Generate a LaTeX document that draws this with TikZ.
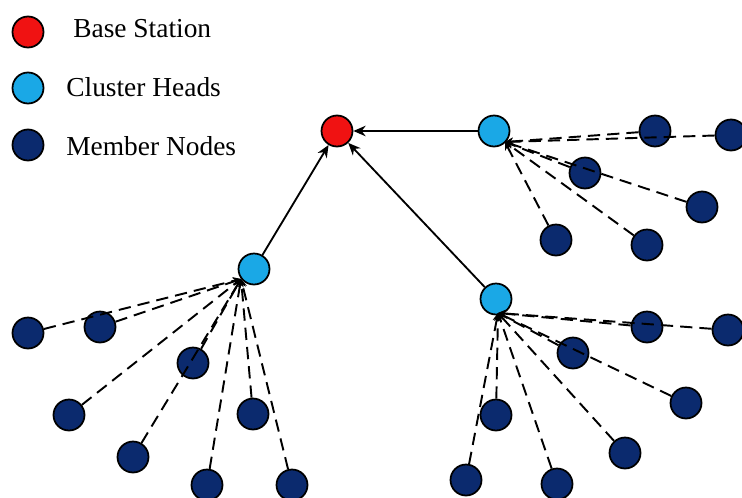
\documentclass[tikz,border=0pt]{standalone}
\usepackage{fontspec}
\setmainfont{Liberation Serif}
\usetikzlibrary{arrows.meta}
\definecolor{bsred}{RGB}{240,18,18}
\definecolor{chcyan}{RGB}{26,168,230}
\definecolor{mbnavy}{RGB}{11,42,110}
\tikzset{
  dot/.style={circle,draw=black,line width=1pt,minimum size=0.62cm,inner sep=0pt},
  bs/.style={dot,fill=bsred},
  ch/.style={dot,fill=chcyan},
  mb/.style={dot,fill=mbnavy},
  uplink/.style={line width=1.05pt,-{Stealth[length=7pt,width=6pt]}},
  member/.style={line width=1.1pt,dash pattern=on 7pt off 4pt,-{Stealth[length=4.5pt,width=4.5pt]}},
  legtext/.style={anchor=west,inner sep=0pt,font=\fontsize{15.6}{18}\selectfont}
}
\begin{document}
\begin{tikzpicture}[x=0.02cm,y=-0.02cm]
\useasboundingbox (0,0) rectangle (742,497);
% legend
\node[bs] (lbs) at (28,32) {};
\node[ch] (lch) at (28,88) {};
\node[mb] (lmb) at (28,145) {};
\node[legtext] (tbs) at (73,29) {Base Station};
\node[legtext] (tch) at (66,87) {Cluster Heads};
\node[legtext] (tmb) at (66,146) {Member Nodes};
% base station and cluster heads
\node[bs] (bs) at (337,131) {};
\node[ch] (ch1) at (494,131) {};
\node[ch] (ch2) at (254,269) {};
\node[ch] (ch3) at (496,299) {};
% members of cluster 1
\node[mb] (a1) at (655,131) {};
\node[mb] (a2) at (731,135) {};
\node[mb] (a3) at (585,173) {};
\node[mb] (a4) at (702,207) {};
\node[mb] (a5) at (556,240) {};
\node[mb] (a6) at (647,245) {};
% members of cluster 2
\node[mb] (b1) at (28,333) {};
\node[mb] (b2) at (100,327) {};
\node[mb] (b3) at (193,363) {};
\node[mb] (b4) at (69,415) {};
\node[mb] (b5) at (253,414) {};
\node[mb] (b6) at (133,457) {};
\node[mb] (b7) at (207,485) {};
\node[mb] (b8) at (292,485) {};
% members of cluster 3
\node[mb] (c1) at (647,327) {};
\node[mb] (c2) at (728,330) {};
\node[mb] (c3) at (573,353) {};
\node[mb] (c4) at (686,403) {};
\node[mb] (c5) at (496,415) {};
\node[mb] (c6) at (625,453) {};
\node[mb] (c7) at (466,480) {};
\node[mb] (c8) at (557,484) {};
% points where member links reach their head
\coordinate (h1) at (505,142);
\coordinate (h2) at (241,279);
\coordinate (h3) at (498,313);
% uplinks to the base station
\draw[uplink] (ch1) -- (bs);
\draw[uplink] (ch2) -- (bs);
\draw[uplink] (ch3) -- (bs);
% member links
\foreach \m in {a1,a2,a3,a4,a5,a6} \draw[member] (\m) -- (h1);
\foreach \m in {b1,b2,b3,b4,b5,b6,b7,b8} \draw[member] (\m) -- (h2);
\foreach \m in {c1,c2,c3,c4,c5,c6,c7,c8} \draw[member] (\m) -- (h3);
\end{tikzpicture}
\end{document}
